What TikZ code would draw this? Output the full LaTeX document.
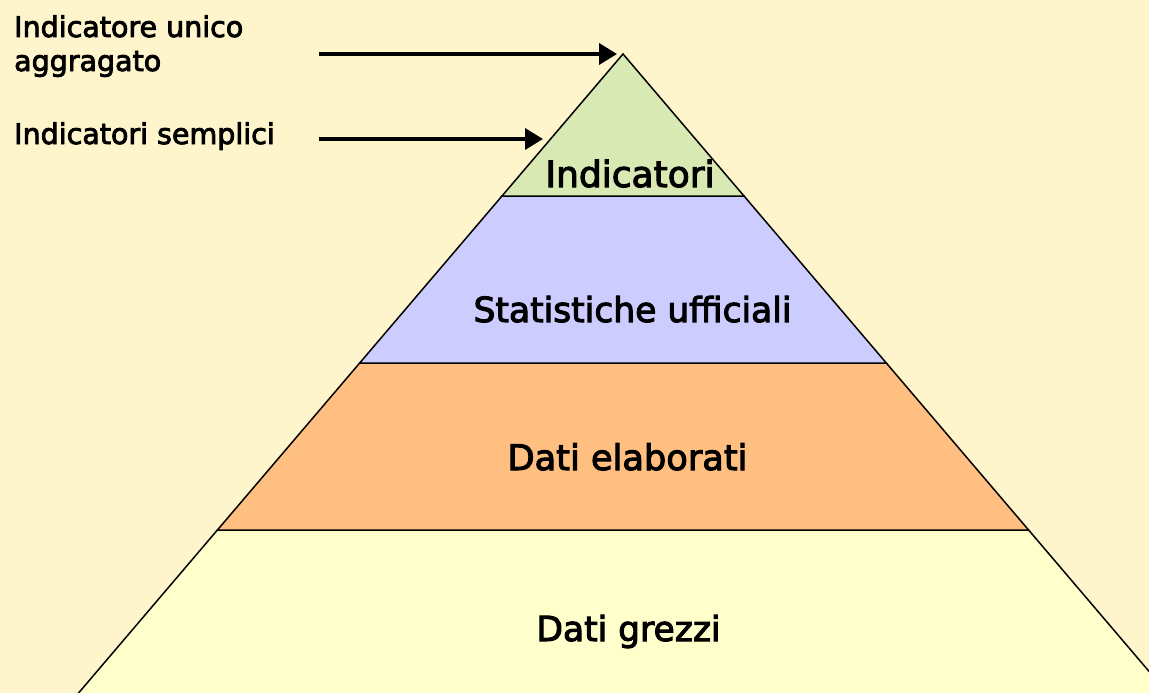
\documentclass[tikz,border=0pt]{standalone}
\usepackage{fontspec}
\setmainfont{DejaVu Sans}
\newfontfamily\labfont[FakeBold=3]{DejaVu Sans}
\usetikzlibrary{arrows.meta}
\definecolor{bgc}{HTML}{FFF5CC}
\definecolor{lgreen}{HTML}{D8E9B4}
\definecolor{lblue}{HTML}{CCCCFF}
\definecolor{lorange}{HTML}{FFBF80}
\definecolor{lyellow}{HTML}{FFFFCC}
\tikzset{
  layer/.style={draw=black,line width=1.5pt,line join=miter},
  sidelabel/.style={anchor=base west,inner sep=0pt,font=\labfont\fontsize{28.5}{32}\selectfont},
  laylabel/.style={anchor=base,inner sep=0pt},
  pointer/.style={line width=3.8pt,-{Triangle[length=18pt,width=21pt]}}
}
\begin{document}
\begin{tikzpicture}[x=1pt,y=-1pt]
\fill[bgc] (0,0) rectangle (1149,693);
\useasboundingbox (0,0) rectangle (1149,693);
\begin{scope}
\clip (0,0) rectangle (1149,693);
\coordinate (apex) at (623,54);
\coordinate (l1) at (502,196);   \coordinate (r1) at (744,196);
\coordinate (l2) at (359.7,363); \coordinate (r2) at (886.3,363);
\coordinate (l3) at (217.4,530); \coordinate (r3) at (1028.6,530);
\coordinate (l4) at (60.7,714);  \coordinate (r4) at (1185.3,714);
\draw[layer,fill=lyellow] (l3) -- (r3) -- (r4) -- (l4) -- cycle;
\draw[layer,fill=lorange] (l2) -- (r2) -- (r3) -- (l3) -- cycle;
\draw[layer,fill=lblue] (l1) -- (r1) -- (r2) -- (l2) -- cycle;
\draw[layer,fill=lgreen] (apex) -- (r1) -- (l1) -- cycle;
\end{scope}
\node[laylabel,font=\labfont\fontsize{36}{40}\selectfont] (tInd) at (630,187) {Indicatori};
\node[laylabel,font=\labfont\fontsize{34.5}{40}\selectfont] (tStat) at (632.5,322) {Statistiche ufficiali};
\node[laylabel,font=\labfont\fontsize{35.2}{40}\selectfont] (tElab) at (627.5,470) {Dati elaborati};
\node[laylabel,font=\labfont\fontsize{34.5}{40}\selectfont] (tGrez) at (628.5,641) {Dati grezzi};
\node[sidelabel] (s1a) at (14,37) {Indicatore unico};
\node[sidelabel] (s1b) at (14,71) {aggragato};
\node[sidelabel] (s2) at (14,144) {Indicatori semplici};
\coordinate (a1s) at (319,54);
\coordinate (a1e) at (617,54);
\coordinate (a2s) at (319,139);
\coordinate (a2e) at (543,139);
\draw[pointer] (a1s) -- (a1e);
\draw[pointer] (a2s) -- (a2e);
\end{tikzpicture}
\end{document}
